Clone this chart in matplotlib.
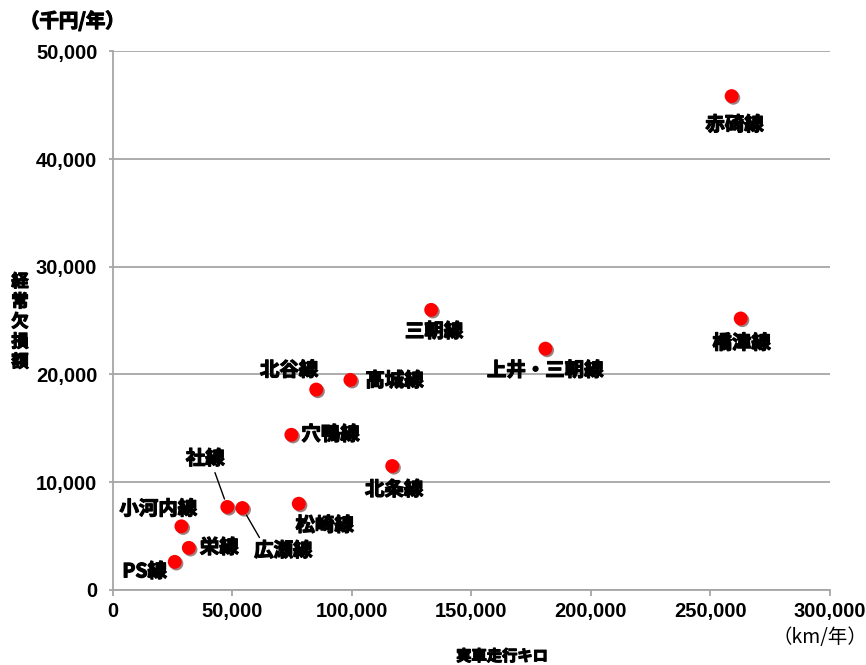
import numpy as np
import matplotlib
matplotlib.use('Agg')
import matplotlib.pyplot as plt
import matplotlib.patheffects as pe
from matplotlib.ticker import FuncFormatter

plt.rcParams['font.family'] = ['Noto Sans CJK JP', 'DejaVu Sans']

# 路線ごとのデータ
names = ['赤碕線', '橋津線', '三朝線', '上井・三朝線', '北谷線', '高城線', '穴鴨線',
         '北条線', '社線', '広瀬線', '松崎線', '小河内線', '栄線', 'PS線']
km = [259000, 262800, 133300, 181100, 85200, 99500, 74800,
      117000, 48000, 54300, 77900, 28800, 31900, 26000]
loss = [45850, 25200, 26000, 22400, 18600, 19500, 14400,
        11500, 7700, 7600, 8000, 5900, 3900, 2600]

xticks = [0, 50000, 100000, 150000, 200000, 250000, 300000]
yticks = [0, 10000, 20000, 30000, 40000, 50000]

# ラベル位置 (offset pixels, ha)
offs = {
    '赤碕線': (3, -29, 'center'),
    '橋津線': (1, -25, 'center'),
    '三朝線': (3, -22, 'center'),
    '上井・三朝線': (0, -22, 'center'),
    '北谷線': (-27, 19, 'center'),
    '高城線': (15, -1, 'left'),
    '穴鴨線': (10, 0, 'left'),
    '北条線': (2, -24, 'center'),
    '社線': (-22, 48, 'center'),
    '広瀬線': (41, -43, 'center'),
    '松崎線': (26, -22, 'center'),
    '小河内線': (-23, 17, 'center'),
    '栄線': (11, 0, 'left'),
    'PS線': (-30, -10, 'center'),
}
leader = {'社線': (0.71, 0.0), '広瀬線': (0.13, 1.0)}

gcol = '#a6a6a6'
w = 'bold'
thick = [pe.withStroke(linewidth=0.9, foreground='black')]

fig = plt.figure(figsize=(8.66, 6.65), dpi=100)
ax = fig.add_axes([0.130, 0.113, 0.828, 0.8097])

sc = ax.scatter(km, loss, s=100, color='#ff0000', zorder=3, linewidths=0)
sc.set_path_effects([pe.SimplePatchShadow(offset=(1.2, -1.2), shadow_rgbFace='#400000', alpha=0.5),
                     pe.Normal()])

for n, xv, yv in zip(names, km, loss):
    dx, dy, ha = offs[n]
    if n in leader:
        t = ax.annotate(n, (xv, yv), xytext=(dx, dy), textcoords='offset pixels',
                        ha=ha, va='center', fontsize=14, fontweight=w,
                        arrowprops=dict(arrowstyle='-', color='black', lw=1,
                                        relpos=leader[n], shrinkA=1, shrinkB=6))
        t.arrow_patch.set_path_effects([pe.Normal()])
    else:
        t = ax.annotate(n, (xv, yv), xytext=(dx, dy), textcoords='offset pixels',
                        ha=ha, va='center', fontsize=14, fontweight=w)
    t.set_path_effects(thick)

ax.set_xlim(0, 300000)
ax.set_ylim(0, 50000)
ax.set_xticks(xticks)
ax.set_yticks(yticks)
fmt = FuncFormatter(lambda v, p: '{:,}'.format(int(v)))
ax.xaxis.set_major_formatter(fmt)
ax.yaxis.set_major_formatter(fmt)
for lab in ax.get_xticklabels() + ax.get_yticklabels():
    lab.set_family('Liberation Sans')
    lab.set_fontweight('bold')
    lab.set_fontsize(14.5)

ax.grid(axis='y', color=gcol, lw=1.3)
ax.set_axisbelow(True)
ax.spines['top'].set_visible(False)
ax.spines['right'].set_visible(False)
ax.spines['left'].set_color(gcol)
ax.spines['bottom'].set_color(gcol)
ax.spines['left'].set_linewidth(1.3)
ax.spines['bottom'].set_linewidth(1.3)
ax.tick_params(axis='x', color=gcol, length=4, width=1.3, pad=5)
ax.tick_params(axis='y', color=gcol, length=3, width=1.3, pad=8)

fig.text(20 / 866, 1 - 21 / 665, '（千円/年）', ha='left', va='center',
         fontsize=14, fontweight=w, path_effects=thick)
fig.text(20 / 866, 1 - 322 / 665, '\n'.join('経常欠損額'), ha='center', va='center',
         fontsize=12.5, fontweight=w, linespacing=1.15, path_effects=thick)
fig.text(820 / 866, 1 - 638 / 665, '（km/年）', ha='center', va='center', fontsize=14)
fig.text(502 / 866, 1 - 656 / 665, '実車走行キロ', ha='center', va='center',
         fontsize=11, fontweight=w, path_effects=thick)

fig.savefig('out.png', dpi=100)
